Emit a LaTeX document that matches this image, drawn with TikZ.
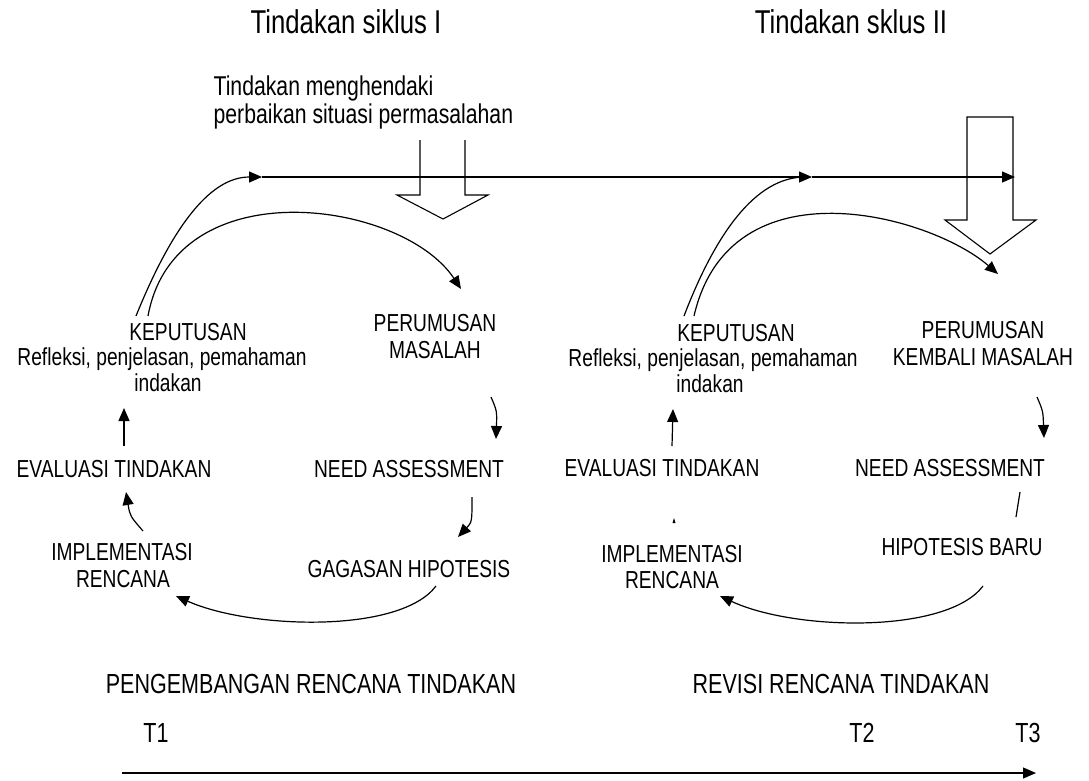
\documentclass[tikz,border=0pt]{standalone}
\usepackage{fontspec}
\setmainfont{Liberation Sans}[FakeStretch=0.78]
\usetikzlibrary{arrows.meta}
\begin{document}
\begin{tikzpicture}[x=1pt,y=-1pt,line width=1.2pt,
  tip/.style={-{Triangle[length=13pt,width=11pt]}},
  lbl/.style={anchor=base,inner sep=0pt,font=\fontsize{24.6}{26}\selectfont},
  head/.style={anchor=base,inner sep=0pt,font=\fontsize{33}{36}\selectfont},
  note/.style={anchor=base west,inner sep=0pt,font=\fontsize{27.2}{29}\selectfont},
  foot/.style={anchor=base,inner sep=0pt,font=\fontsize{27.6}{29}\selectfont},
  bigarrow/.style={line width=1.1pt}]
\useasboundingbox (0,0) rectangle (1089,780);

% headings
\node[head] (h1) at (346,33) {Tindakan siklus I};
\node[head] (h2) at (851,33) {Tindakan sklus II};
\node[note] (n1) at (213,95) {Tindakan menghendaki};
\node[note] (n2) at (213,123) {perbaikan situasi permasalahan};

% big down arrows
\draw[bigarrow] (420,140) -- (420,195) -- (397,195) -- (443,219) -- (488,195) -- (465,195) -- (465,140);
\draw[bigarrow] (967,117) -- (1013,117) -- (1013,220) -- (1036,220) -- (990,254) -- (945,220) -- (967,220) -- cycle;

% ---------- left cycle ----------
\node[lbl] (k1a) at (188,340) {KEPUTUSAN};
\node[lbl] (k1b) at (162,365) {Refleksi, penjelasan, pemahaman};
\node[lbl] (k1c) at (168,391) {indakan};
\node[lbl] (p1a) at (435,331) {PERUMUSAN};
\node[lbl] (p1b) at (435,358) {MASALAH};
\node[lbl] (e1) at (114,477) {EVALUASI TINDAKAN};
\node[lbl] (na1) at (409,477) {NEED ASSESSMENT};
\node[lbl] (i1a) at (122,560) {IMPLEMENTASI};
\node[lbl] (i1b) at (123,587) {RENCANA};
\node[lbl] (g1) at (409,577) {GAGASAN HIPOTESIS};

\coordinate (L0) at (136,316);
\coordinate (L1) at (148,316);
\coordinate (H0) at (262,177);
\coordinate (H1) at (812,177);
\coordinate (H2) at (1015,177);
\draw[tip] (L0) .. controls (170,232) and (208,177) .. (H0);
\draw[tip] (H0) -- (H1);
\draw[tip] (H1) -- (H2);
\draw[tip] (L1) .. controls (175,168) and (402,200) .. (461,289);
\draw[tip] (491,397) .. controls (497,411) .. (496,439);
\draw[tip] (472,497) .. controls (472,522) .. (458,537);
\draw[tip] (436,586) .. controls (400,634) and (250,629) .. (176,596);
\draw[tip] (143,531) .. controls (130,516) .. (126,492);
\draw[tip] (124,446) -- (124,408);

% ---------- right cycle ----------
\node[lbl] (k2a) at (736,341) {KEPUTUSAN};
\node[lbl] (k2b) at (713,366) {Refleksi, penjelasan, pemahaman};
\node[lbl] (k2c) at (710,392) {indakan};
\node[lbl] (p2a) at (983,338) {PERUMUSAN};
\node[lbl] (p2b) at (983,365) {KEMBALI MASALAH};
\node[lbl] (e2) at (662,476) {EVALUASI TINDAKAN};
\node[lbl] (na2) at (950,476) {NEED ASSESSMENT};
\node[lbl] (i2a) at (672,562) {IMPLEMENTASI};
\node[lbl] (i2b) at (672,588) {RENCANA};
\node[lbl] (hb) at (962,555) {HIPOTESIS BARU};

\coordinate (R0) at (684,316);
\coordinate (R1) at (694,316);
\draw (R0) .. controls (715,235) and (755,177) .. (805,177);
\draw[tip] (R1) .. controls (730,160) and (930,215) .. (998,274);
\draw[tip] (1037,397) .. controls (1043,411) .. (1044,438);
\draw (1020,492) -- (1016,517);
\draw[tip] (983,586) .. controls (947,634) and (795,631) .. (720,596);
\draw[tip] (672,446) -- (673,409);
\fill (672.5,523) -- (674,518) -- (675.5,523) -- cycle;

% ---------- bottom ----------
\node[foot] (pr) at (311,693) {PENGEMBANGAN RENCANA TINDAKAN};
\node[foot] (rr) at (841,693) {REVISI RENCANA TINDAKAN};
\node[foot] (t1) at (156,742) {T1};
\node[foot] (t2) at (862,742) {T2};
\node[foot] (t3) at (1028,742) {T3};
\coordinate (A0) at (122,773);
\coordinate (A1) at (1036,773);
\draw[tip] (A0) -- (A1);
\end{tikzpicture}
\end{document}
